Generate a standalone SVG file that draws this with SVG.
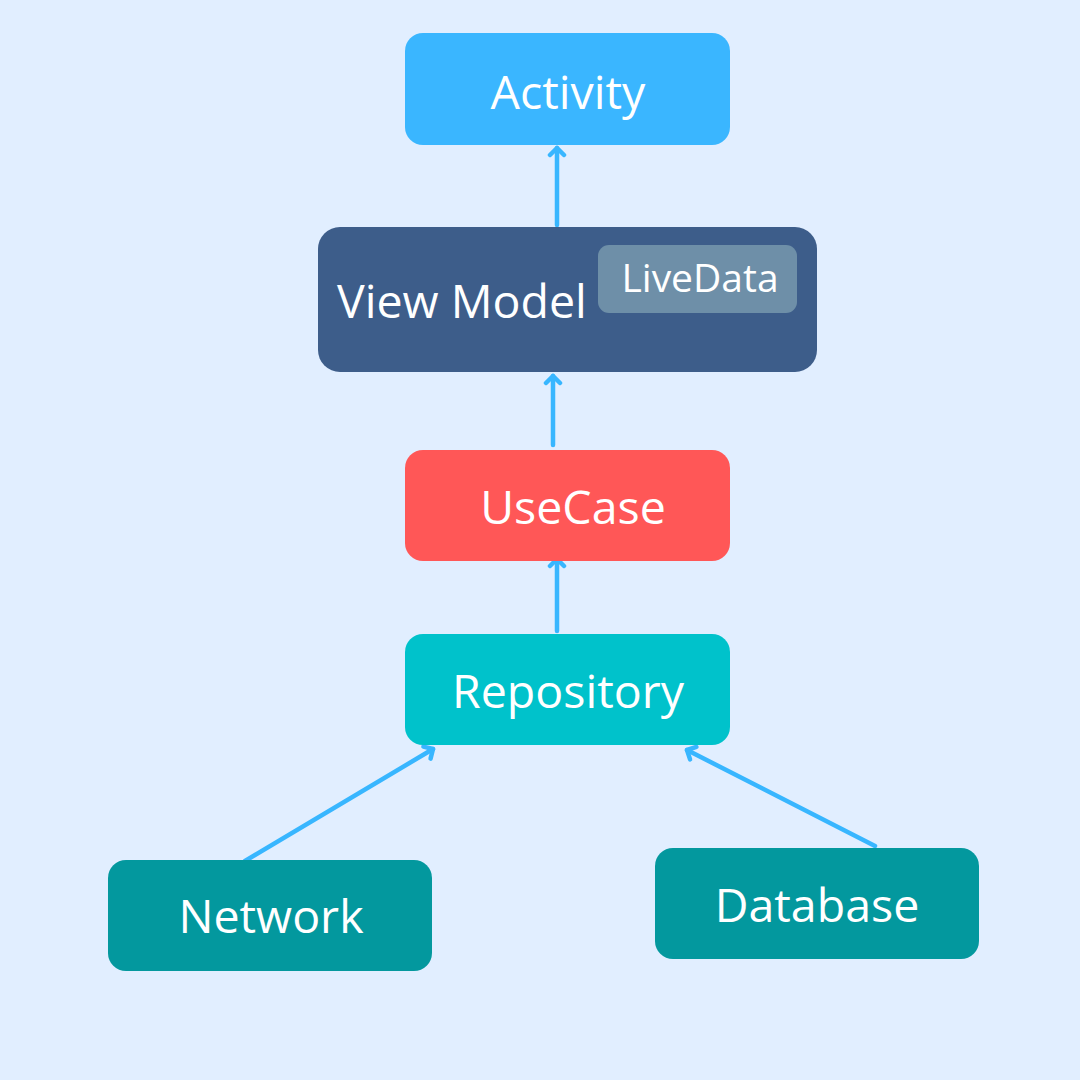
<svg xmlns="http://www.w3.org/2000/svg" width="1080" height="1080" viewBox="0 0 1080 1080">
<style>
.lbl{font-family:"Open Sans","Noto Sans",sans-serif;fill:#ffffff;font-size:46.5px}
.c{text-anchor:middle}
.conn{stroke:#38b6ff;stroke-width:4.5;stroke-linecap:round;fill:none;marker-end:url(#ah)}
</style>
<defs>
<marker id="ah" viewBox="-10 -10 20 20" markerWidth="20" markerHeight="20" refX="0" refY="0" orient="auto" markerUnits="userSpaceOnUse">
<path d="M-7,-7 L0,0 L-7,7" fill="none" stroke="#38b6ff" stroke-width="4.5" stroke-linecap="round" stroke-linejoin="round"/>
</marker>
</defs>
<rect width="1080" height="1080" fill="#e1eeff"/>
<g id="connectors">
<line class="conn" x1="557" y1="225" x2="557" y2="148"/>
<line class="conn" x1="553" y1="445" x2="553" y2="376"/>
<line class="conn" x1="557" y1="631" x2="557" y2="559"/>
<line class="conn" x1="245" y1="861" x2="433" y2="749"/>
<line class="conn" x1="875" y1="846" x2="687" y2="750"/>
</g>
<g id="activity">
<rect x="405" y="33" width="325" height="112" rx="18" fill="#3ab6ff"/>
<text class="lbl c" x="568" y="109">Activity</text>
</g>
<g id="viewmodel">
<rect x="318" y="227" width="499" height="145" rx="22" fill="#3d5d8a"/>
<text class="lbl" x="337" y="318">View Model</text>
<g id="livedata">
<rect x="598" y="245" width="199" height="68" rx="11" fill="#6e8fa8"/>
<text class="lbl c" x="700" y="292" style="font-size:39px">LiveData</text>
</g>
</g>
<g id="usecase">
<rect x="405" y="450" width="325" height="111" rx="18" fill="#ff5757"/>
<text class="lbl c" x="573" y="524">UseCase</text>
</g>
<g id="repository">
<rect x="405" y="634" width="325" height="111" rx="18" fill="#00c2cb"/>
<text class="lbl c" x="568" y="708">Repository</text>
</g>
<g id="network">
<rect x="108" y="860" width="324" height="111" rx="18" fill="#03989e"/>
<text class="lbl c" x="271" y="933">Network</text>
</g>
<g id="database">
<rect x="655" y="848" width="324" height="111" rx="18" fill="#03989e"/>
<text class="lbl c" x="817" y="922">Database</text>
</g>
</svg>
